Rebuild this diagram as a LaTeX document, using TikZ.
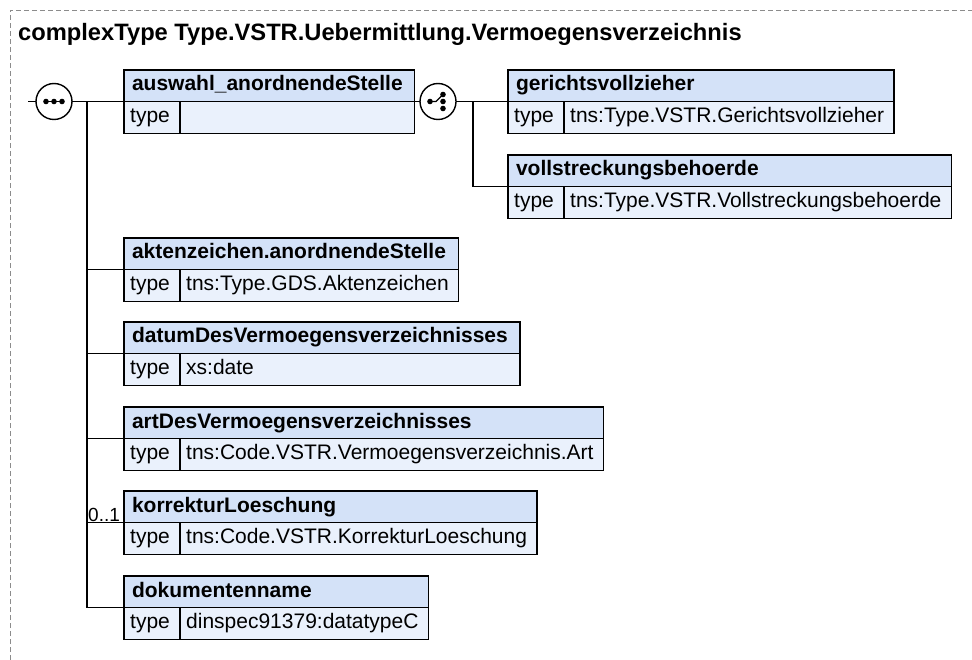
\documentclass[tikz,border=0pt]{standalone}
\usepackage{fontspec}
\setmainfont{Liberation Sans}
\definecolor{hdrfill}{HTML}{D4E2F8}
\definecolor{bodyfill}{HTML}{EAF1FC}
\newlength\elHw
\newlength\elVw
\newcommand\hdrfont{\fontsize{21}{25}\selectfont\bfseries}
\newcommand\valfont{\fontsize{21}{25}\selectfont}
\tikzset{
  boxline/.style={draw=black, line width=1.4pt, outer sep=0pt},
  hdr/.style={boxline, fill=hdrfill, anchor=north west, minimum height=31.5pt, inner xsep=8pt, inner ysep=0pt, align=left, font=\hdrfont, text height=15pt, text depth=4.5pt},
  bodyrow/.style={boxline, fill=bodyfill, anchor=north west, minimum height=32pt, inner sep=0pt},
  typelbl/.style={anchor=west, inner xsep=6pt, inner ysep=0pt, font=\valfont, text height=15pt, text depth=4.5pt},
  typeval/.style={anchor=west, inner xsep=6pt, inner ysep=0pt, font=\valfont, text height=15pt, text depth=4.5pt},
  divider/.style={draw=black, line width=1.2pt},
  conn/.style={draw=black, line width=1.4pt},
  symb/.style={circle, draw=black, line width=1.4pt, fill=white, minimum size=36pt, inner sep=0pt, outer sep=0pt},
  frameline/.style={draw=black!45, line width=0.9pt, dash pattern=on 5pt off 3pt},
}
% measure element widths outside the picture
\makeatletter
\newcommand\measureel[3]{%
  \settowidth\elHw{\hdrfont #2}\settowidth\elVw{\valfont #3}%
  \pgfmathsetmacro\el@tmp{max(\elHw+20,\elVw+72)}%
  \expandafter\xdef\csname elw@#1\endcsname{\el@tmp}%
}
\newcommand\elem[5]{%
  \edef\elW{\csname elw@#1\endcsname}%
  \pgfmathsetmacro\elTw{\elW-16}%
  \node[hdr, text width=\elTw pt] (#1) at (#2,#3) {#4};
  \node[bodyrow, minimum width=\elW pt] (#1t) at (#1.south west) {};
  \node[typelbl] (#1k) at (#1t.west) {type};
  \draw[divider] ([xshift=56pt]#1t.north west) -- ([xshift=56pt]#1t.south west);
  \node[typeval] (#1v) at ([xshift=56pt]#1t.west) {#5};
}
\makeatother
\begin{document}
\measureel{auswahl}{auswahl\_anordnendeStelle}{}%
\measureel{gv}{gerichtsvollzieher}{tns:Type.VSTR.Gerichtsvollzieher}%
\measureel{vb}{vollstreckungsbehoerde}{tns:Type.VSTR.Vollstreckungsbehoerde}%
\measureel{az}{aktenzeichen.anordnendeStelle}{tns:Type.GDS.Aktenzeichen}%
\measureel{dv}{datumDesVermoegensverzeichnisses}{xs:date}%
\measureel{av}{artDesVermoegensverzeichnisses}{tns:Code.VSTR.Vermoegensverzeichnis.Art}%
\measureel{kl}{korrekturLoeschung}{tns:Code.VSTR.KorrekturLoeschung}%
\measureel{dn}{dokumentenname}{dinspec91379:datatypeC}%
\begin{tikzpicture}[x=1pt,y=-1pt]
\useasboundingbox (0,0) rectangle (972,660);
\draw[frameline] (10,660) -- (10,10) -- (972,10);
\node[anchor=base west, inner sep=0pt, font=\fontsize{23.7}{28}\selectfont\bfseries] (title) at (18,41) {complexType Type.VSTR.Uebermittlung.Vermoegensverzeichnis};

\elem{auswahl}{124}{70}{auswahl\_anordnendeStelle}{}
\elem{gv}{508}{70}{gerichtsvollzieher}{tns:Type.VSTR.Gerichtsvollzieher}
\elem{vb}{508}{155}{vollstreckungsbehoerde}{tns:Type.VSTR.Vollstreckungsbehoerde}
\elem{az}{124}{238}{aktenzeichen.anordnendeStelle}{tns:Type.GDS.Aktenzeichen}
\elem{dv}{124}{322}{datumDesVermoegensverzeichnisses}{xs:date}
\elem{av}{124}{407}{artDesVermoegensverzeichnisses}{tns:Code.VSTR.Vermoegensverzeichnis.Art}
\elem{kl}{124}{491}{korrekturLoeschung}{tns:Code.VSTR.KorrekturLoeschung}
\elem{dn}{124}{576}{dokumentenname}{dinspec91379:datatypeC}

% sequence compositor
\coordinate (in) at (28,101.5);
\coordinate (sv) at (87,101.5);
\node[symb] (seq) at (54,101.5) {};
\draw[conn] (in) -- (seq.west);
\draw[conn] (seq.east) -- (auswahl.south west);
\draw[line width=1.4pt] ([xshift=-10pt]seq.center) -- ([xshift=10pt]seq.center);
\fill ([xshift=-8pt]seq.center) circle (2.8pt);
\fill (seq.center) circle (2.8pt);
\fill ([xshift=8pt]seq.center) circle (2.8pt);
\draw[conn] (sv) -- (sv |- dn.south west) -- (dn.south west);
\draw[conn] (sv |- az.south west) -- (az.south west);
\draw[conn] (sv |- dv.south west) -- (dv.south west);
\draw[conn] (sv |- av.south west) -- (av.south west);
\draw[conn] (sv |- kl.south west) -- (kl.south west);
\node[anchor=south west, inner xsep=1pt, inner ysep=0.5pt, font=\fontsize{19}{21}\selectfont] (occ) at (sv |- kl.south west) {0..1};

% choice compositor
\node[symb] (ch) at (438,101.5) {};
\coordinate (cv) at (473,101.5);
\draw[conn] (auswahl.south east) -- (ch.west);
\draw[conn] (ch.east) -- (gv.south west);
\draw[conn] (cv) -- (cv |- vb.south west) -- (vb.south west);
\draw[line width=1.4pt] ([xshift=-8pt]ch.center) -- ([xshift=-2pt]ch.center) -- ([shift={(5pt,7pt)}]ch.center);
\fill ([xshift=-8pt]ch.center) circle (2.8pt);
\fill ([shift={(5pt,7pt)}]ch.center) circle (2.8pt);
\fill ([shift={(5pt,0pt)}]ch.center) circle (2.8pt);
\fill ([shift={(5pt,-7pt)}]ch.center) circle (2.8pt);
\end{tikzpicture}
\end{document}
